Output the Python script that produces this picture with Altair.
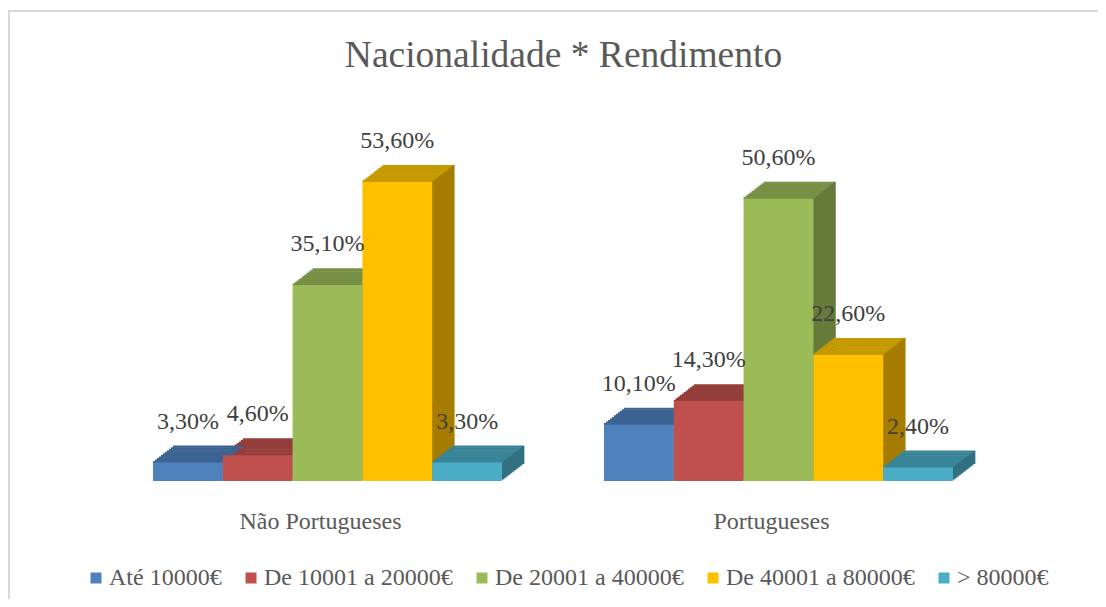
import altair as alt
import pandas as pd

# ---- data ----
nacionalidade = ["Não Portugueses", "Portugueses"]
rendimento = ["Até 10000€", "De 10001 a 20000€", "De 20001 a 40000€",
              "De 40001 a 80000€", "> 80000€"]
nao_portugueses = [3.3, 4.6, 35.1, 53.6, 3.3]
portugueses = [10.1, 14.3, 50.6, 22.6, 2.4]

# ---- styles ----
front_colors = ["#4f81bd", "#c0504d", "#9bbb59", "#ffc000", "#4bacc6"]
top_colors = ["#3d6392", "#943e3b", "#779045", "#c49a00", "#3a8498"]
side_colors = ["#33547b", "#7d3432", "#657a3a", "#a67d00", "#317081"]

FONT = "Times New Roman, Liberation Serif, Tinos, DejaVu Serif, serif"
W, H = 1090, 473
PAD_BOTTOM = 118
DEPTH_X, DEPTH_Y = 22, 17
N_STEPS = 11
WS = DEPTH_X / N_STEPS
HS = DEPTH_Y / N_STEPS
P_INNER, P_OUTER = 0.226, 0.3215
step = W / (2 - P_INNER + 2 * P_OUTER)
group_bw = step * (1 - P_INNER)
sub_bw = group_bw / 5

rows = []
for g, vals in zip(nacionalidade, [nao_portugueses, portugueses]):
    for r, v in zip(rendimento, vals):
        rows.append({"grupo": g, "rend": r, "valor": v,
                     "rotulo": f"{v:.2f}%".replace(".", ",")})
df = pd.DataFrame(rows)

x_enc = alt.X("grupo:N", sort=nacionalidade,
              scale=alt.Scale(paddingInner=P_INNER, paddingOuter=P_OUTER),
              axis=alt.Axis(title=None, domain=False, ticks=False, grid=False,
                            labelFont=FONT, labelFontSize=24, labelColor="#595959",
                            labelPadding=28, labelOffset=-7, labelAngle=0))
y_enc = alt.Y("valor:Q", scale=alt.Scale(domain=[0, H / 5.58], nice=False, zero=True),
              axis=None)


def xo(shift):
    return alt.XOffset("rend:N", sort=rendimento,
                       scale=alt.Scale(domain=rendimento, paddingInner=0, paddingOuter=0,
                                       range=[shift, group_bw + shift]))


def col(rng, legend=None):
    return alt.Color("rend:N", sort=rendimento,
                     scale=alt.Scale(domain=rendimento, range=rng), legend=legend)


base = alt.Chart(df)
layers = []

# side faces (staircase of narrow slices)
for k in range(N_STEPS):
    layers.append(
        base.mark_bar(width=WS + 0.7, yOffset=-(k + 1) * HS, y2Offset=-k * HS)
        .encode(x=x_enc, xOffset=xo(sub_bw / 2 + (k + 0.5) * WS), y=y_enc,
                color=col(side_colors))
    )

# top faces (staircase of thin slices)
for k in range(N_STEPS):
    layers.append(
        base.mark_bar(yOffset=-(k + 1) * HS, y2Offset=-k * HS + 0.6)
        .encode(x=x_enc, xOffset=xo(k * WS), y=y_enc, y2=alt.Y2("valor:Q"),
                color=col(top_colors))
    )

# front faces
layers.append(
    base.mark_bar().encode(
        x=x_enc, xOffset=xo(0), y=y_enc,
        color=col(front_colors, alt.Legend(
            title=None, orient="none", legendX=76, legendY=558,
            direction="horizontal", symbolType="square", symbolSize=121,
            symbolStrokeWidth=0, labelFont=FONT, labelFontSize=24,
            labelColor="#595959", labelOffset=1, columnPadding=17,
            labelLimit=400, padding=0)),
    )
)

# value labels
layers.append(
    base.mark_text(dy=-41, baseline="middle", align="center", font=FONT,
                   fontSize=24, color="#404040")
    .encode(x=x_enc,
            xOffset=alt.XOffset("rend:N", sort=rendimento,
                                scale=alt.Scale(type="point", domain=rendimento,
                                                padding=0.5, range=[0, group_bw])),
            y=y_enc, text="rotulo:N")
)

# chart frame (left and top edges)
frame_data = alt.Data(values=[{}])
layers.append(
    alt.Chart(frame_data).mark_rule(color="#d9d9d9", strokeWidth=2)
    .encode(x=alt.value(1), y=alt.value(3), y2=alt.value(H + PAD_BOTTOM))
)
layers.append(
    alt.Chart(frame_data).mark_rule(color="#d9d9d9", strokeWidth=2)
    .encode(x=alt.value(0), x2=alt.value(W), y=alt.value(3))
)

chart = (
    alt.layer(*layers)
    .resolve_scale(color="independent", xOffset="independent")
    .properties(
        width=W, height=H,
        autosize=alt.AutoSizeParams(type="none"),
        padding={"left": 0, "top": 0, "right": 0, "bottom": PAD_BOTTOM},
        title=alt.TitleParams(
            "Nacionalidade * Rendimento", anchor="middle", offset=-96,
            baseline="alphabetic", font=FONT, fontSize=37.5, fontWeight="normal",
            color="#595959", dx=10.5),
    )
    .configure_view(strokeWidth=0)
)

chart.save("out.html", embed_options={"renderer": "svg", "actions": False})
